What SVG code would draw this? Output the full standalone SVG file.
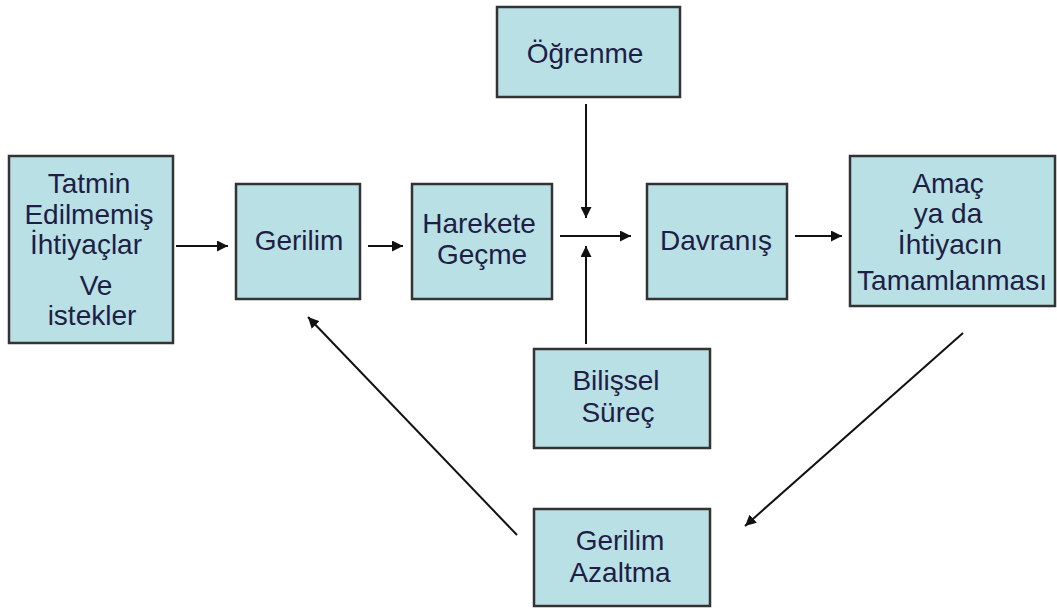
<svg xmlns="http://www.w3.org/2000/svg" width="1057" height="608" viewBox="0 0 1057 608">
  <defs>
    <marker id="arrow" viewBox="0 0 10 10" refX="10" refY="5" markerWidth="11" markerHeight="11" markerUnits="userSpaceOnUse" orient="auto">
      <path d="M0,0 L10,5 L0,10 z" fill="#111"/>
    </marker>
    <style>
      .box { fill: #b9e0e4; stroke: #333; stroke-width: 2.5; }
      .label { font-family: "Liberation Sans", Arial, sans-serif; font-size: 28px; fill: #1e1e46; text-anchor: middle; }
      .link { stroke: #111; stroke-width: 2; fill: none; marker-end: url(#arrow); }
    </style>
  </defs>
  <rect width="1057" height="608" fill="#fff"/>

  <g id="tatmin">
    <rect class="box" x="9" y="156" width="164" height="187"/>
    <text class="label" x="89" y="193">Tatmin</text>
    <text class="label" x="89" y="224">Edilmemiş</text>
    <text class="label" x="86" y="254">İhtiyaçlar</text>
    <text class="label" x="96" y="295">Ve</text>
    <text class="label" x="92" y="325">istekler</text>
  </g>

  <g id="gerilim">
    <rect class="box" x="236" y="184" width="124" height="115"/>
    <text class="label" x="299" y="250">Gerilim</text>
  </g>

  <g id="harekete-gecme">
    <rect class="box" x="412" y="184" width="140" height="115"/>
    <text class="label" x="479" y="233">Harekete</text>
    <text class="label" x="482" y="264">Geçme</text>
  </g>

  <g id="ogrenme">
    <rect class="box" x="497" y="7" width="183" height="90"/>
    <text class="label" x="585" y="63">Öğrenme</text>
  </g>

  <g id="bilissel-surec">
    <rect class="box" x="534" y="349" width="176" height="99"/>
    <text class="label" x="616" y="390">Bilişsel</text>
    <text class="label" x="618" y="422">Süreç</text>
  </g>

  <g id="davranis">
    <rect class="box" x="647" y="184" width="140" height="115"/>
    <text class="label" x="716" y="250">Davranış</text>
  </g>

  <g id="amac">
    <rect class="box" x="850" y="156" width="205" height="150"/>
    <text class="label" x="948" y="193">Amaç</text>
    <text class="label" x="948" y="223">ya da</text>
    <text class="label" x="950" y="254">İhtiyacın</text>
    <text class="label" x="952" y="290">Tamamlanması</text>
  </g>

  <g id="gerilim-azaltma">
    <rect class="box" x="534" y="509" width="176" height="97"/>
    <text class="label" x="620" y="550">Gerilim</text>
    <text class="label" x="620" y="582">Azaltma</text>
  </g>

  <g id="connectors">
    <line class="link" x1="176" y1="246" x2="228" y2="246"/>
    <line class="link" x1="368" y1="246" x2="403" y2="246"/>
    <line class="link" x1="560" y1="236" x2="631" y2="236"/>
    <line class="link" x1="586" y1="104" x2="586" y2="218"/>
    <line class="link" x1="586" y1="344" x2="586" y2="246"/>
    <line class="link" x1="795" y1="236" x2="842" y2="236"/>
    <line class="link" x1="963" y1="333" x2="745" y2="526"/>
    <line class="link" x1="517" y1="535" x2="308" y2="317"/>
  </g>
</svg>
